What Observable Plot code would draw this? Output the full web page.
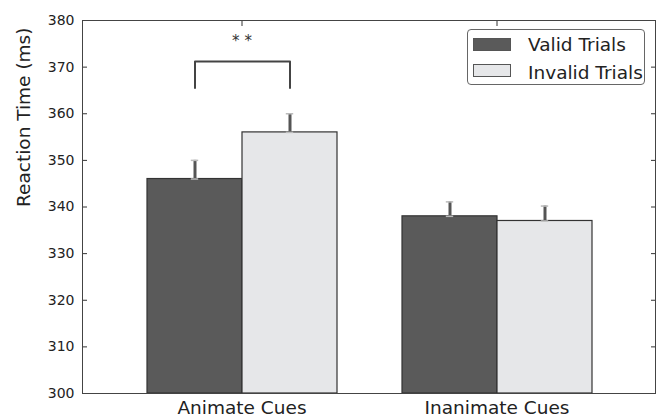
<!DOCTYPE html>
<html>
<head>
<meta charset="utf-8">
<script src="https://cdn.jsdelivr.net/npm/d3@7"></script>
<script src="https://cdn.jsdelivr.net/npm/@observablehq/plot@0.6"></script>
<style>
  html, body { margin: 0; padding: 0; background: #fff; }
  #wrap { position: relative; width: 660px; height: 418px; font-family: "DejaVu Sans", sans-serif; }
  #legend { position: absolute; left: 467px; top: 29px; width: 176px; height: 54px;
    border: 1px solid #666; border-radius: 4px; background: #fff; box-sizing: content-box; }
  .sw { position: absolute; left: 5px; width: 36px; height: 11px; border: 1px solid #555; }
  .tx { position: absolute; left: 60px; font-size: 18.5px; line-height: 18.5px; color: #222; white-space: nowrap; }
</style>
</head>
<body>
<div id="wrap"></div>
<script>
const groups = ["Animate Cues", "Inanimate Cues"];
const trials = ["Valid Trials", "Invalid Trials"];
const meanRT = [[346, 356], [338, 337]];
const errRT = [[4, 4], [3.1, 3.2]];
const yDomain = [300, 380];
const yTicks = [300, 310, 320, 330, 340, 350, 360, 370, 380];
const colors = ["#5a5a5a", "#e6e7e9"];
const sigGroup = "Animate Cues";
const sigLow = 365.5, sigHigh = 371.2, sigLabel = "* *", sigLabelY = 375.6;

const data = [];
groups.forEach((g, i) => trials.forEach((t, j) => data.push({
  group: g, trial: t, value: meanRT[i][j], upper: meanRT[i][j] + errRT[i][j], base: yDomain[0]
})));
const bracket = [
  {group: sigGroup, trial: trials[0], y: sigLow},
  {group: sigGroup, trial: trials[0], y: sigHigh},
  {group: sigGroup, trial: trials[1], y: sigHigh},
  {group: sigGroup, trial: trials[1], y: sigLow}
];

// outer gap between the plot frame and the first/last group
const outerL = 64, outerR = 63;

const chart = Plot.plot({
  width: 660,
  height: 418,
  marginLeft: 82 + outerL,
  marginRight: 4 + outerR,
  marginTop: 20,
  marginBottom: 25,
  style: {fontFamily: "DejaVu Sans, sans-serif", color: "#222", background: "transparent"},
  fx: {domain: groups, paddingInner: 0.25, paddingOuter: 0, label: null},
  x: {domain: trials, padding: 0, axis: null},
  y: {domain: yDomain, ticks: yTicks, label: null},
  color: {domain: trials, range: colors},
  marks: [
    Plot.axisFx({anchor: "bottom", tickSize: 0, tickPadding: 7, fontSize: 18.5, label: null}),
    Plot.axisFx({anchor: "top", tickSize: -5, text: null, label: null, stroke: "#333"}),
    Plot.axisY({ticks: yTicks, tickSize: 0, tickPadding: 8, fontSize: 14, label: null, dx: -outerL}),
    Plot.axisY({ticks: yTicks, tickSize: -5, text: null, label: null, stroke: "#333", dx: -outerL}),
    Plot.axisY({ticks: yTicks, anchor: "right", tickSize: -5, text: null, label: null, stroke: "#333", dx: outerR}),
    Plot.barY(data, {fx: "group", x: "trial", y1: "base", y2: "value", fill: "trial", stroke: "#333", strokeWidth: 1.2}),
    Plot.ruleX(data, {fx: "group", x: "trial", y1: "value", y2: "upper", stroke: "#555", strokeWidth: 3}),
    Plot.tickY(data, {fx: "group", x: "trial", y: "upper", stroke: "#bbb", strokeWidth: 1.5, insetLeft: 43.8, insetRight: 43.8}),
    Plot.tickY(data, {fx: "group", x: "trial", y: "value", stroke: "#bbb", strokeWidth: 1.5, insetLeft: 43.8, insetRight: 43.8}),
    Plot.line(bracket, {fx: "group", x: "trial", y: "y", stroke: "#444", strokeWidth: 2}),
    Plot.text([sigLabel], {fx: [sigGroup], y: [sigLabelY], text: d => d, fontSize: 15, fill: "#333"}),
    Plot.frame({facet: "super", stroke: "#444", insetLeft: -outerL, insetRight: -outerR}),
    Plot.text(["Reaction Time (ms)"], {facet: "super", frameAnchor: "left", dx: -58 - outerL, rotate: -90, fontSize: 18.5, fill: "#222"})
  ]
});
const wrap = document.getElementById("wrap");
wrap.appendChild(chart);

const legend = document.createElement("div");
legend.id = "legend";
trials.forEach((t, i) => {
  const sw = document.createElement("div");
  sw.className = "sw";
  sw.style.top = (i === 0 ? 7.7 : 34.3) + "px";
  sw.style.background = colors[i];
  const tx = document.createElement("div");
  tx.className = "tx";
  tx.style.top = (i === 0 ? 6 : 34.3) + "px";
  tx.textContent = t;
  legend.appendChild(sw); legend.appendChild(tx);
});
wrap.appendChild(legend);
</script>
</body>
</html>
